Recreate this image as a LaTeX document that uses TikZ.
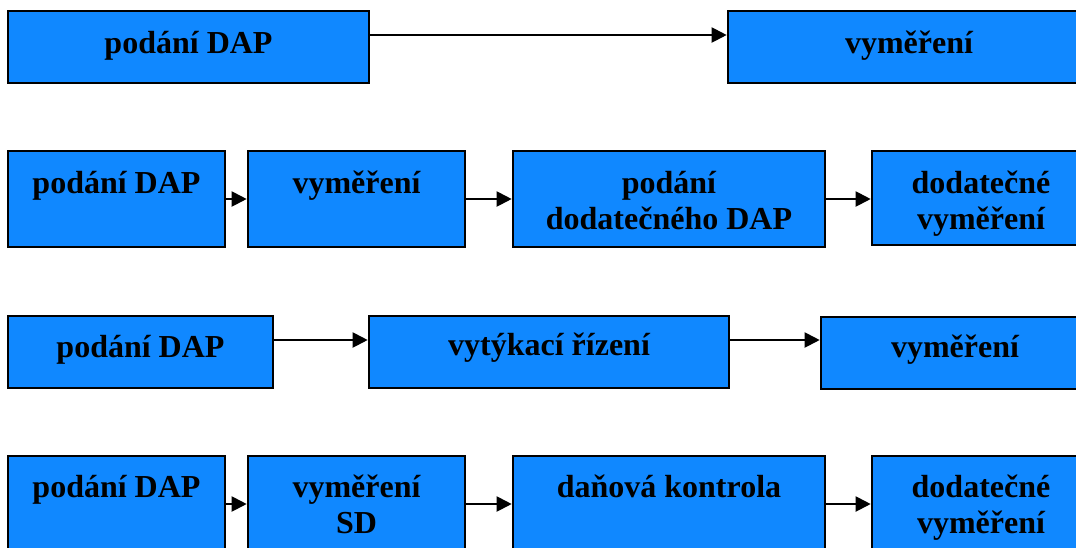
\documentclass[tikz,border=0pt]{standalone}
\usepackage{fontspec}
\setmainfont{Liberation Serif}
\usetikzlibrary{arrows.meta}
\definecolor{boxblue}{RGB}{16,136,255}
\tikzset{
  procbox/.style={rectangle, draw=black, line width=1.3pt, fill=boxblue, inner sep=0pt},
  lbl/.style={font=\fontsize{16}{18}\selectfont\bfseries, align=center, inner sep=0pt, anchor=base},
  flow/.style={line width=1pt, -{Triangle[length=7.5pt,width=7.5pt]}}
}
\begin{document}
\begin{tikzpicture}[x=0.5pt,y=-0.5pt]
\useasboundingbox (0,0) rectangle (1076,547);
% row 1
\node[procbox, minimum width=180.5pt, minimum height=36pt] (a1) at (188.5,47) {};
\node[procbox, minimum width=181pt, minimum height=36pt] (a2) at (909,47) {};
\node[lbl] (ta1) at (188.5,53) {podání DAP};
\node[lbl] (ta2) at (909,53) {vyměření};
\draw[flow] ([yshift=6pt]a1.east) -- ([yshift=6pt]a2.west);
% row 2
\node[procbox, minimum width=108.5pt, minimum height=48pt] (b1) at (116.5,199) {};
\node[procbox, minimum width=108.5pt, minimum height=48pt] (b2) at (356.5,199) {};
\node[procbox, minimum width=156pt, minimum height=48pt] (b3) at (669,199) {};
\node[procbox, minimum width=109pt, minimum height=47pt] (b4) at (981,198) {};
\node[lbl] (tb1) at (116.5,193) {podání DAP};
\node[lbl] (tb2) at (356.5,193) {vyměření};
\node[lbl] (tb3) at (669,229) {podání\\dodatečného DAP};
\node[lbl] (tb4) at (981,229) {dodatečné\\vyměření};
\draw[flow] (b1) -- (b2);
\draw[flow] (b2) -- (b3);
\draw[flow] (b3.east) -- (b4.west |- b3.east);
% row 3
\node[procbox, minimum width=132.5pt, minimum height=36pt] (c1) at (140.5,352) {};
\node[procbox, minimum width=180pt, minimum height=36pt] (c2) at (549,352) {};
\node[procbox, minimum width=134pt, minimum height=36pt] (c3) at (955,353) {};
\node[lbl] (tc1) at (140.5,357) {podání DAP};
\node[lbl] (tc2) at (549,355) {vytýkací řízení};
\node[lbl] (tc3) at (955,357) {vyměření};
\draw[flow] ([yshift=6pt]c1.east) -- ([yshift=6pt]c2.west);
\draw[flow] ([yshift=6pt]c2.east) -- ([yshift=6pt]c2.east -| c3.west);
% row 4
\node[procbox, minimum width=108.5pt, minimum height=48pt] (d1) at (116.5,504) {};
\node[procbox, minimum width=108.5pt, minimum height=48pt] (d2) at (356.5,504) {};
\node[procbox, minimum width=156pt, minimum height=48pt] (d3) at (669,504) {};
\node[procbox, minimum width=109pt, minimum height=48pt] (d4) at (981,504) {};
\node[lbl] (td1) at (116.5,497) {podání DAP};
\node[lbl] (td2) at (356.5,533) {vyměření\\SD};
\node[lbl] (td3) at (669,497) {daňová kontrola};
\node[lbl] (td4) at (981,533) {dodatečné\\vyměření};
\draw[flow] (d1) -- (d2);
\draw[flow] (d2) -- (d3);
\draw[flow] (d3) -- (d4);
\end{tikzpicture}
\end{document}
